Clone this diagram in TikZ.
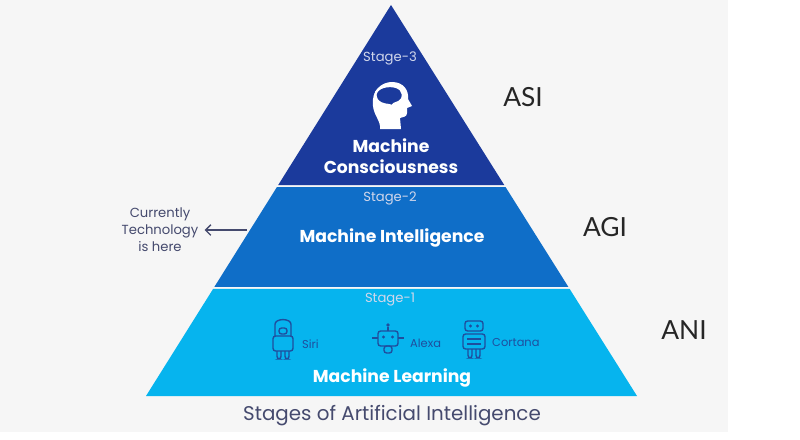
\documentclass[tikz,border=0pt]{standalone}
\usepackage{fontspec}
\setmainfont{Poppins}
\newfontfamily\latofont{Lato}
\usetikzlibrary{calc,arrows.meta}
\definecolor{bgGray}{HTML}{F6F6F6}
\definecolor{asiBlue}{HTML}{1B3A9C}
\definecolor{agiBlue}{HTML}{0F6EC8}
\definecolor{aniBlue}{HTML}{06B4EE}
\definecolor{iconBlue}{HTML}{1F4E9E}
\definecolor{slate}{HTML}{454A6E}
\tikzset{
  stagelbl/.style={text=white!80!asiBlue, font=\fontsize{7.5}{8}\selectfont},
  layerlbl/.style={text=white, font=\fontsize{9.8}{12}\selectfont\bfseries, align=center},
  sidelbl/.style={text=black!85, font=\latofont\fontsize{15}{17}\selectfont},
  botlbl/.style={text=iconBlue, font=\fontsize{6.5}{7}\selectfont, anchor=west},
  robot/.style={draw=iconBlue, line width=0.8pt, rounded corners=1.5pt}
}
\begin{document}
\begin{tikzpicture}[x=0.02cm,y=-0.02cm]
\useasboundingbox (0,0) rectangle (800,439);
\fill[white] (0,0) rectangle (800,439);
\fill[bgGray] (0,0) rectangle (728,432);

% pyramid corners
\coordinate (apex) at (391,5);
\coordinate (bl) at (146,396);
\coordinate (br) at (637,396);

% layers
\fill[asiBlue] (apex) -- ($(apex)!0.4604!(br)$) -- ($(apex)!0.4604!(bl)$) -- cycle;
\fill[agiBlue] ($(apex)!0.4655!(bl)$) -- ($(apex)!0.4655!(br)$)
  -- ($(apex)!0.7212!(br)$) -- ($(apex)!0.7212!(bl)$) -- cycle;
\fill[aniBlue] ($(apex)!0.7263!(bl)$) -- ($(apex)!0.7263!(br)$) -- (br) -- (bl) -- cycle;

% stage 3
\node[stagelbl] (st3) at (390,58) {Stage-3};
\fill[white] (380,129) .. controls (381,121) and (374,116) .. (373,106)
  .. controls (371,90) and (382,82) .. (392,82)
  .. controls (404,82) and (409,91) .. (408,99)
  -- (412,106) -- (407,108) -- (407,113)
  .. controls (407,117) and (403,117) .. (400,118) -- (401,129) -- cycle;
\filldraw[fill=asiBlue, draw=white, line width=1.3pt]
  (377,100) .. controls (372,92) and (380,86) .. (390,86)
  .. controls (400,86) and (405,92) .. (402,99)
  .. controls (399,104) and (394,102) .. (392,106)
  .. controls (388,104) and (382,106) .. cycle;
\node[layerlbl] (mc) at (391,156) {Machine\\Consciousness};
\node[sidelbl] (asi) at (523,97) {ASI};

% stage 2
\node[stagelbl] (st2) at (390,198) {Stage-2};
\node[layerlbl] (mi) at (392,238) {Machine Intelligence};
\node[sidelbl] (agi) at (605,227) {AGI};
\node[text=slate, align=center, font=\fontsize{7.5}{9.6}\selectfont] (curr) at (160,230)
  {Currently\\Technology\\is here};
\coordinate (edge) at (247,230);
\draw[slate, line width=0.8pt, -{Straight Barb[length=3pt,width=6pt]}] (edge) -- (curr.east);

% stage 1
\node[stagelbl] (st1) at (390,300) {Stage-1};
% siri
\draw[robot] (275,336) -- (275,327) .. controls (275,318) and (291,318) .. (291,327) -- (291,336);
\draw[robot] (279,328) rectangle (287,334);
\draw[robot] (273,336) rectangle (293,351);
\draw[robot] (277,351) -- (277,359) -- (281,359) -- (281,351) (285,351) -- (285,359) -- (289,359) -- (289,351);
\node[botlbl] (siri) at (296,344) {Siri};
% alexa
\draw[robot] (388,331) -- (388,327);
\fill[iconBlue] (388,325) circle (1.8);
\draw[robot] (378,331) rectangle (398,346);
\fill[iconBlue] (383.5,337) circle (1.6) (392.5,337) circle (1.6);
\draw[robot] (372,338) -- (378,338) (398,338) -- (404,338);
\draw[robot] (384,346) rectangle (392,353);
\node[botlbl] (alexa) at (404,343) {Alexa};
% cortana
\draw[robot] (465,321) rectangle (483,331);
\fill[iconBlue] (470.5,326) circle (1.6) (477.5,326) circle (1.6);
\draw[robot] (463,334) rectangle (485,349);
\draw[robot] (467,339) -- (481,339) (467,344) -- (481,344);
\draw[robot] (468,349) -- (468,358) -- (472,358) -- (472,349) (476,349) -- (476,358) -- (480,358) -- (480,349);
\node[botlbl] (cortana) at (486,343) {Cortana};
\node[layerlbl] (ml) at (392,378) {Machine Learning};
\node[sidelbl] (ani) at (684,330) {ANI};

% caption
\node[text=slate, font=\fontsize{11.3}{13}\selectfont] (title) at (392,416) {Stages of Artificial Intelligence};
\end{tikzpicture}
\end{document}
